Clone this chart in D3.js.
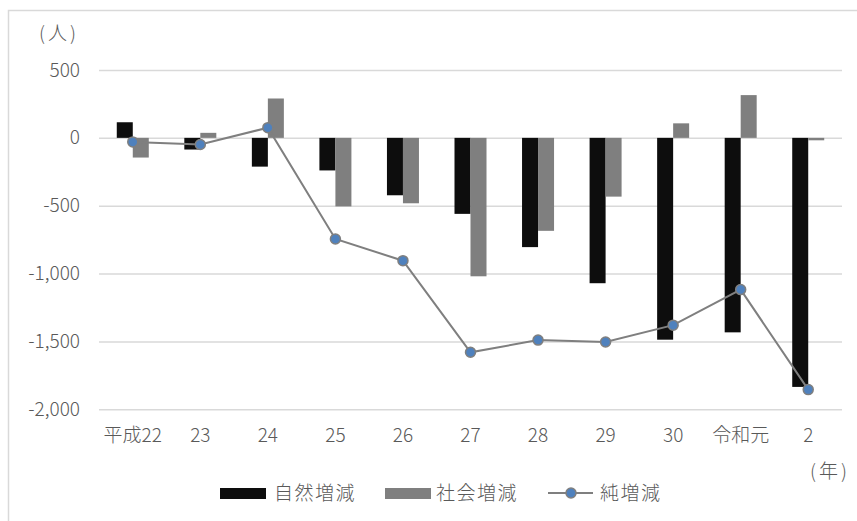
<!DOCTYPE html>
<html>
<head>
<meta charset="utf-8">
<script src="https://cdn.jsdelivr.net/npm/d3@7"></script>
<style>
  body { margin: 0; background: #fff; }
  text { font-family: "Noto Sans CJK JP", "Noto Sans", sans-serif; fill: #595959; font-weight: 300; }
</style>
</head>
<body>
<div id="chart"></div>
<script>
// data
const years = ["平成22", "23", "24", "25", "26", "27", "28", "29", "30", "令和元", "2"];
const natural = [115, -86, -212, -240, -423, -560, -805, -1071, -1487, -1433, -1835];
const social = [-145, 37, 290, -505, -482, -1020, -685, -433, 107, 315, -18];
const net = [-30, -49, 75, -745, -905, -1580, -1490, -1504, -1380, -1118, -1855];
const yTicks = [500, 0, -500, -1000, -1500, -2000];
const seriesNames = ["自然増減", "社会増減", "純増減"];

const width = 857, height = 521;
const svg = d3.select("#chart").append("svg")
  .attr("width", width)
  .attr("height", height);

// outer frame (top and left edges visible)
svg.append("path")
  .attr("d", "M8.5,521 L8.5,10.5 L857,10.5")
  .attr("fill", "none")
  .attr("stroke", "#d9d9d9")
  .attr("stroke-width", 1.5);

// scales
const x = d3.scaleBand()
  .domain(years)
  .range([99, 842]);

const barW = 16;
const xSub = d3.scaleBand()
  .domain(["natural", "social"])
  .range([-barW, barW]);

const y = d3.scaleLinear()
  .domain([-2000, 500])
  .range([409.3, 70]);

// grid lines
svg.append("g")
  .attr("transform", "translate(99,0)")
  .call(d3.axisLeft(y)
    .tickValues(yTicks)
    .tickSize(-(842 - 99))
    .tickFormat(""))
  .call(g => g.select(".domain").remove())
  .call(g => g.selectAll("line")
    .attr("stroke", "#d9d9d9")
    .attr("stroke-width", 1.5));

// y labels (plain hyphen for negatives, like the original)
const fmt = d => d3.format(",")(d).replace("−", "-");
svg.append("g")
  .attr("transform", "translate(80,0)")
  .call(d3.axisLeft(y)
    .tickValues(yTicks)
    .tickSize(0)
    .tickPadding(0)
    .tickFormat(fmt))
  .call(g => g.select(".domain").remove())
  .call(g => g.selectAll("text")
    .attr("font-size", 19)
    .style("font-family", "'Noto Sans CJK JP', sans-serif")
    .style("font-weight", 300)
    .attr("fill", "#595959"));

// x labels
svg.append("g")
  .attr("transform", "translate(0,428)")
  .call(d3.axisBottom(x).tickSize(0).tickPadding(0))
  .call(g => g.select(".domain").remove())
  .call(g => g.selectAll("text")
    .attr("font-size", 19)
    .attr("dy", "0.71em")
    .style("font-family", "'Noto Sans CJK JP', sans-serif")
    .style("font-weight", 300)
    .attr("fill", "#595959"));

// bars
const center = d => x(d) + x.bandwidth() / 2;

svg.append("g").selectAll("rect")
  .data(years)
  .join("rect")
  .attr("x", d => center(d) + xSub("natural"))
  .attr("width", xSub.bandwidth())
  .attr("y", (d, i) => y(Math.max(0, natural[i])))
  .attr("height", (d, i) => Math.abs(y(natural[i]) - y(0)))
  .attr("fill", "#0d0d0d");

svg.append("g").selectAll("rect")
  .data(years)
  .join("rect")
  .attr("x", d => center(d) + xSub("social"))
  .attr("width", xSub.bandwidth())
  .attr("y", (d, i) => y(Math.max(0, social[i])))
  .attr("height", (d, i) => Math.max(1, Math.abs(y(social[i]) - y(0))))
  .attr("fill", "#7f7f7f");

// net line
const line = d3.line()
  .x((d, i) => center(years[i]))
  .y(d => y(d));

svg.append("path")
  .datum(net)
  .attr("d", line)
  .attr("fill", "none")
  .attr("stroke", "#7f7f7f")
  .attr("stroke-width", 2);

svg.append("g").selectAll("circle")
  .data(net)
  .join("circle")
  .attr("cx", (d, i) => center(years[i]))
  .attr("cy", d => y(d))
  .attr("r", 5)
  .attr("fill", "#4f81bd")
  .attr("stroke", "#7f7f7f")
  .attr("stroke-width", 1.5);

// unit labels
svg.append("text")
  .attr("x", 39)
  .attr("y", 40)
  .attr("font-size", 19)
  .style("letter-spacing", "3px")
  .text("(人)");

svg.append("text")
  .attr("x", 810)
  .attr("y", 478)
  .attr("font-size", 19)
  .style("letter-spacing", "3px")
  .text("(年)");

// legend
const legend = svg.append("g").attr("transform", "translate(0,493)");

legend.append("rect")
  .attr("x", 220).attr("y", -5).attr("width", 46).attr("height", 11)
  .attr("fill", "#0d0d0d");
legend.append("text")
  .attr("x", 274).attr("dy", "0.35em").attr("font-size", 19)
  .style("letter-spacing", "1.5px")
  .text(seriesNames[0]);

legend.append("rect")
  .attr("x", 385).attr("y", -5).attr("width", 46).attr("height", 11)
  .attr("fill", "#7f7f7f");
legend.append("text")
  .attr("x", 436).attr("dy", "0.35em").attr("font-size", 19)
  .style("letter-spacing", "1.5px")
  .text(seriesNames[1]);

legend.append("line")
  .attr("x1", 548).attr("x2", 593)
  .attr("stroke", "#7f7f7f").attr("stroke-width", 2);
legend.append("circle")
  .attr("cx", 571).attr("r", 5)
  .attr("fill", "#4f81bd")
  .attr("stroke", "#7f7f7f")
  .attr("stroke-width", 1.5);
legend.append("text")
  .attr("x", 600).attr("dy", "0.35em").attr("font-size", 19)
  .style("letter-spacing", "1.5px")
  .text(seriesNames[2]);
</script>
</body>
</html>
